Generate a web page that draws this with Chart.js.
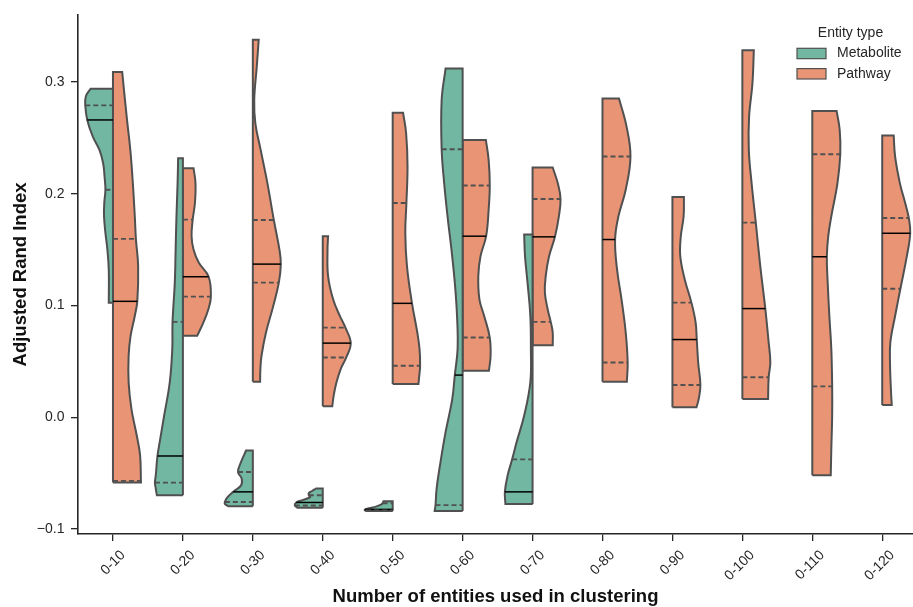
<!DOCTYPE html>
<html>
<head>
<meta charset="utf-8">
<script src="https://cdn.jsdelivr.net/npm/chart.js@4.4.0/dist/chart.umd.min.js"></script>
<style>
html,body{margin:0;padding:0;background:#fff;}
#wrap{width:913px;height:607px;}
</style>
</head>
<body>
<div id="wrap"><canvas id="c" width="913" height="607"></canvas></div>
<script>
// ---------------- data ----------------
const categories = ['0-10','0-20','0-30','0-40','0-50','0-60','0-70','0-80','0-90','0-100','0-110','0-120'];
const seriesNames = ['Metabolite','Pathway'];
const legendTitle = 'Entity type';
const xTitle = 'Number of entities used in clustering';
const yTitle = 'Adjusted Rand Index';
const yTickValues = [-0.1, 0.0, 0.1, 0.2, 0.3];

// density outline of each half violin: [value, relative half-width], bottom (min) to top (max)
const metaboliteProfile = [
  [[0.1025,0.15],[0.132,0.15],[0.150,0.20],[0.165,0.27],[0.180,0.32],[0.192,0.31],[0.2035,0.27],[0.215,0.30],[0.227,0.35],[0.239,0.48],[0.251,0.72],[0.266,0.92],[0.279,0.99],[0.287,0.97],[0.294,0.80]],
  [[-0.0698,0.93],[-0.0639,0.97],[-0.0585,1.0],[-0.0520,0.97],[-0.0347,0.91],[-0.0223,0.83],[0.0015,0.67],[0.0312,0.47],[0.0609,0.38],[0.0853,0.37],[0.1204,0.29],[0.1501,0.26],[0.1798,0.23],[0.2095,0.19],[0.2318,0.17]],
  [[-0.0796,0.88],[-0.0775,1.0],[-0.0758,1.0],[-0.0720,0.92],[-0.0668,0.70],[-0.0610,0.42],[-0.0549,0.40],[-0.0490,0.53],[-0.0400,0.42],[-0.0297,0.24]],
  [[-0.0811,0.89],[-0.0790,1.0],[-0.0763,0.95],[-0.0740,0.70],[-0.0715,0.45],[-0.0698,0.50],[-0.0680,0.50],[-0.0660,0.38],[-0.0638,0.24]],
  [[-0.0840,0.95],[-0.0830,1.0],[-0.0815,0.85],[-0.0800,0.60],[-0.0785,0.45],[-0.0770,0.36],[-0.0751,0.33]],
  [[-0.0840,1.0],[-0.0787,0.97],[-0.0639,0.93],[-0.0431,0.81],[-0.0134,0.61],[0.0164,0.37],[0.0377,0.28],[0.0609,0.18],[0.0906,0.20],[0.1204,0.28],[0.1501,0.40],[0.1798,0.54],[0.2095,0.66],[0.2398,0.75],[0.2837,0.75],[0.3120,0.61]],
  [[-0.0777,0.97],[-0.0668,0.99],[-0.0520,0.89],[-0.0377,0.73],[-0.0223,0.57],[0.0015,0.30],[0.0312,0.08],[0.0609,0.06],[0.0906,0.08],[0.1204,0.18],[0.1441,0.27],[0.1634,0.30]],
  null, null, null, null, null
];
const pathwayProfile = [
  [[-0.0585,1.0],[-0.0342,0.97],[-0.0164,0.85],[0.0074,0.66],[0.0312,0.56],[0.0550,0.56],[0.0728,0.63],[0.0906,0.78],[0.1037,0.87],[0.1352,0.90],[0.1596,0.82],[0.1798,0.78],[0.2095,0.71],[0.2392,0.62],[0.2689,0.49],[0.309,0.33]],
  [[0.0728,0.51],[0.0847,0.73],[0.0966,0.91],[0.1079,1.0],[0.1257,0.92],[0.1382,0.57],[0.1501,0.38],[0.1620,0.31],[0.1768,0.35],[0.1917,0.43],[0.2095,0.45],[0.2228,0.38]],
  [[0.0318,0.26],[0.0431,0.27],[0.0550,0.31],[0.0758,0.47],[0.0996,0.73],[0.1204,0.93],[0.1370,1.0],[0.1501,0.95],[0.1765,0.75],[0.2095,0.52],[0.2392,0.28],[0.2630,0.09],[0.2837,0.05],[0.3134,0.14],[0.3378,0.21]],
  [[0.0098,0.34],[0.0193,0.39],[0.0312,0.49],[0.0431,0.64],[0.0535,0.84],[0.0663,1.0],[0.0802,0.81],[0.0906,0.61],[0.1055,0.37],[0.1263,0.19],[0.1501,0.17],[0.1619,0.19]],
  [[0.0297,0.92],[0.0372,0.95],[0.0461,0.98],[0.0609,0.96],[0.0758,0.88],[0.1019,0.69],[0.1352,0.51],[0.1649,0.45],[0.1917,0.49],[0.2244,0.53],[0.2541,0.48],[0.2725,0.37]],
  [[0.0416,0.94],[0.0550,1.0],[0.0713,0.97],[0.0906,0.77],[0.1055,0.60],[0.1263,0.56],[0.1441,0.64],[0.1620,0.84],[0.1857,0.93],[0.2074,0.97],[0.2303,0.93],[0.2481,0.83]],
  [[0.0645,0.72],[0.0758,0.72],[0.0853,0.65],[0.0966,0.54],[0.1115,0.44],[0.1263,0.47],[0.1441,0.59],[0.1614,0.80],[0.1798,0.94],[0.1953,1.0],[0.2095,0.90],[0.2234,0.72]],
  [[0.0318,0.87],[0.0490,0.90],[0.0758,0.83],[0.1055,0.68],[0.1322,0.52],[0.1590,0.45],[0.1798,0.57],[0.2036,0.83],[0.2333,1.0],[0.2600,0.86],[0.2852,0.59]],
  [[0.0089,0.86],[0.0164,0.94],[0.0288,1.0],[0.0490,0.92],[0.0695,0.87],[0.0847,0.83],[0.1025,0.68],[0.1233,0.44],[0.1441,0.28],[0.1620,0.30],[0.1798,0.40],[0.1970,0.41]],
  [[0.0164,0.92],[0.0357,0.94],[0.0490,1.0],[0.0669,0.94],[0.0972,0.82],[0.1352,0.64],[0.1741,0.48],[0.2095,0.33],[0.2392,0.23],[0.2689,0.24],[0.2986,0.36],[0.3283,0.41]],
  [[-0.0520,0.66],[-0.0282,0.68],[0.0015,0.71],[0.0276,0.71],[0.0609,0.68],[0.0906,0.61],[0.1204,0.55],[0.1436,0.52],[0.1620,0.57],[0.1798,0.68],[0.2095,0.90],[0.2353,1.0],[0.2570,0.98],[0.2739,0.87]],
  [[0.0110,0.34],[0.0253,0.31],[0.0461,0.28],[0.0669,0.29],[0.0906,0.46],[0.1150,0.65],[0.1441,0.88],[0.1646,1.0],[0.1783,0.95],[0.1917,0.82],[0.2095,0.63],[0.2333,0.46],[0.2520,0.41]]
];

// quartiles and medians
const metaboliteQ1     = [0.2035, -0.0585, -0.0758, -0.0790, -0.0835, -0.0787, -0.0775, null, null, null, null, null];
const metaboliteMedian = [0.266,  -0.0347, -0.0668, -0.0763, -0.0825,  0.0377, -0.0668, null, null, null, null, null];
const metaboliteQ3     = [0.279,   0.0853, -0.0490, -0.0698, -0.0770,  0.2398, -0.0377, null, null, null, null, null];
const pathwayQ1     = [-0.057, 0.1079, 0.1204, 0.0535, 0.0461, 0.0713, 0.0853, 0.0490, 0.0288, 0.0357, 0.0276, 0.1150];
const pathwayMedian = [0.1037, 0.1257, 0.1370, 0.0663, 0.1019, 0.1620, 0.1614, 0.1590, 0.0695, 0.0972, 0.1436, 0.1646];
const pathwayQ3     = [0.1596, 0.1768, 0.1765, 0.0802, 0.1917, 0.2074, 0.1953, 0.2333, 0.1025, 0.1741, 0.2353, 0.1783];

// ---------------- style ----------------
const fillColors = ['#71b7a1', '#e99575'];
const edgeColor = '#505050';
const axisColor = '#262626';
const HALF = 0.4; // half-violin max width in category units
const FONT = "'Liberation Sans', Arial, Helvetica, sans-serif";
Chart.defaults.font.family = FONT;

function nearestWidth(prof, v) {
  let best = prof[0];
  for (const p of prof) if (Math.abs(p[0] - v) < Math.abs(best[0] - v)) best = p;
  return best[1];
}

function halfShape(i, prof, side) {
  const pts = [];
  const yMin = prof[0][0], yMax = prof[prof.length - 1][0];
  pts.push({x: i, y: yMin});
  prof.forEach(([y, w], k) => {
    const p = {x: i + side * w * HALF, y};
    pts.push(p);
    if (k === 0 || k === prof.length - 1) pts.push({x: p.x, y: p.y});
  });
  pts.push({x: i, y: yMax}, {x: i, y: yMax}, {x: i, y: yMin});
  return pts;
}

const datasets = [];
const groups = [
  {prof: metaboliteProfile, q1: metaboliteQ1, med: metaboliteMedian, q3: metaboliteQ3, side: -1, color: fillColors[0]},
  {prof: pathwayProfile, q1: pathwayQ1, med: pathwayMedian, q3: pathwayQ3, side: 1, color: fillColors[1]}
];
categories.forEach((cat, i) => {
  groups.forEach(g => {
    const prof = g.prof[i];
    if (!prof) return;
    datasets.push({
      data: halfShape(i, prof, g.side), fill: 'shape', backgroundColor: g.color, order: 2,
      borderColor: edgeColor, borderWidth: 2, tension: 0.4, pointRadius: 0, borderJoinStyle: 'miter'
    });
    const line = (v, dashed) => {
      const xe = i + g.side * nearestWidth(prof, v) * HALF;
      const d = g.side < 0 ? [{x: xe, y: v}, {x: i, y: v}] : [{x: i, y: v}, {x: xe, y: v}];
      datasets.push({
        data: d, fill: false, tension: 0, pointRadius: 0, order: 1,
        borderColor: dashed ? edgeColor : '#000000', borderWidth: dashed ? 1.9 : 1.5,
        borderDash: dashed ? [5, 3] : [], borderCapStyle: 'butt'
      });
    };
    line(g.q1[i], true);
    line(g.q3[i], true);
    line(g.med[i], false);
  });
});

const legendPlugin = {
  id: 'entityLegend',
  afterDraw(chart) {
    const ctx = chart.ctx;
    ctx.save();
    ctx.font = "14px " + FONT;
    ctx.fillStyle = axisColor;
    ctx.textAlign = 'center';
    ctx.textBaseline = 'middle';
    ctx.fillText(legendTitle, 850.5, 33);
    seriesNames.forEach((name, k) => {
      const y = 53.5 + k * 20.3;
      ctx.fillStyle = fillColors[k];
      ctx.fillRect(797, y - 5.2, 29, 10.4);
      ctx.strokeStyle = edgeColor;
      ctx.lineWidth = 1.2;
      ctx.strokeRect(797, y - 5.2, 29, 10.4);
      ctx.fillStyle = axisColor;
      ctx.textAlign = 'left';
      ctx.fillText(name, 837, y);
    });
    ctx.restore();
  }
};

const tickFont = {size: 14, family: FONT};
new Chart(document.getElementById('c'), {
  type: 'line',
  data: {datasets},
  plugins: [legendPlugin],
  options: {
    responsive: false,
    animation: false,
    devicePixelRatio: 1,
    events: [],
    layout: {padding: {top: 13, right: 0, bottom: 0, left: 0}},
    plugins: {legend: {display: false}, tooltip: {enabled: false}},
    scales: {
      x: {
        type: 'linear', min: -0.5, max: 11.44, bounds: 'data',
        afterBuildTicks: s => { s.ticks = categories.map((_, i) => ({value: i})); },
        afterFit: s => { s.height = 73; },
        ticks: {autoSkip: false, minRotation: 45, maxRotation: 45, padding: 6, labelOffset: 10,
                color: axisColor, font: tickFont, callback: v => categories[v]},
        grid: {display: true, drawOnChartArea: false, drawTicks: true, tickLength: 7, color: axisColor, lineWidth: 1.3},
        border: {display: true, color: axisColor, width: 1.6},
        title: {display: true, text: xTitle, color: '#111', font: {size: 18.5, weight: 'bold', lineHeight: 1, family: FONT}, padding: {top: 0, bottom: 1}}
      },
      y: {
        type: 'linear', min: -0.1045, max: 0.36, bounds: 'data',
        afterBuildTicks: s => { s.ticks = yTickValues.map(v => ({value: v})); },
        afterFit: s => { s.width = 78; },
        ticks: {padding: 6.5, color: axisColor, font: tickFont,
                callback: v => v.toFixed(1).replace('-', '\u2212')},
        grid: {display: true, drawOnChartArea: false, drawTicks: true, tickLength: 7, color: axisColor, lineWidth: 1.3},
        border: {display: true, color: axisColor, width: 1.6},
        title: {display: true, text: yTitle, color: '#111', font: {size: 18.5, weight: 'bold', lineHeight: 1, family: FONT}, padding: {top: 11.5, bottom: 0}}
      }
    }
  }
});
</script>
</body>
</html>
